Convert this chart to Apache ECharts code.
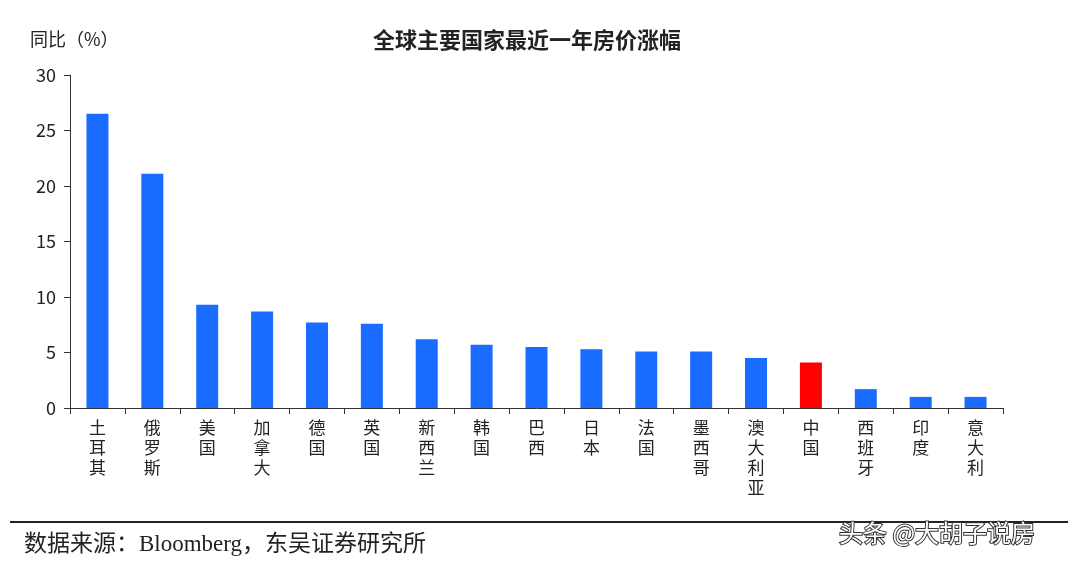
<!DOCTYPE html>
<html><head><meta charset="utf-8">
<script src="https://cdn.jsdelivr.net/npm/echarts@6/dist/echarts.min.js"></script>
<style>html,body{margin:0;background:#fff}#c{width:1080px;height:568px}</style>
</head><body><div id="c"></div>
<script>
const categories=['土耳其','俄罗斯','美国','加拿大','德国','英国','新西兰','韩国','巴西','日本','法国','墨西哥','澳大利亚','中国','西班牙','印度','意大利'];
const values=[26.5,21.1,9.3,8.7,7.7,7.6,6.2,5.7,5.5,5.3,5.1,5.1,4.5,4.1,1.7,1.0,1.0];
const highlight='中国';
const font='"Noto Sans CJK SC", sans-serif';
const chart=echarts.init(document.getElementById('c'));
chart.setOption({
  animation:false,
  title:{text:'全球主要国家最近一年房价涨幅',left:522,textAlign:'center',top:24,textStyle:{fontSize:22,fontWeight:'bold',color:'#222',fontFamily:font}},
  grid:{left:70,right:77,top:75,bottom:160},
  xAxis:{type:'category',data:categories,
    axisLine:{lineStyle:{color:'#333'}},
    axisTick:{show:true,length:6,lineStyle:{color:'#333'}},
    axisLabel:{interval:0,fontSize:17,color:'#222',fontFamily:font,lineHeight:20,margin:10,formatter:v=>v.split('').join('\n')}},
  yAxis:{type:'value',min:0,max:30,interval:5,
    axisLine:{show:true,lineStyle:{color:'#333'}},
    axisTick:{show:true,length:6,lineStyle:{color:'#333'}},
    splitLine:{show:false},
    axisLabel:{fontSize:18,color:'#222',fontFamily:font,margin:14}},
  series:[{type:'bar',barWidth:22,
    data:values.map((v,i)=>({value:v,itemStyle:{color:categories[i]===highlight?'#FF0000':'#1A6BFF'}}))}],
  graphic:[
    {type:'text',left:30,top:30,style:{text:'同比（%）',fontSize:18,fill:'#222',fontFamily:font}},
    {type:'line',shape:{x1:10,y1:522,x2:1068,y2:522},style:{stroke:'#222',lineWidth:2}},
    {type:'text',left:24,top:533,style:{text:'数据来源：Bloomberg，东吴证券研究所',fontSize:23,fill:'#222',fontFamily:'"Liberation Serif", "Noto Sans CJK SC", serif'}},
    {type:'text',left:838,top:520,style:{text:'头条 @大胡子说房',fontSize:24,fill:'#fff',stroke:'#333',lineWidth:2,fontFamily:font}}
  ]
});
</script></body></html>
